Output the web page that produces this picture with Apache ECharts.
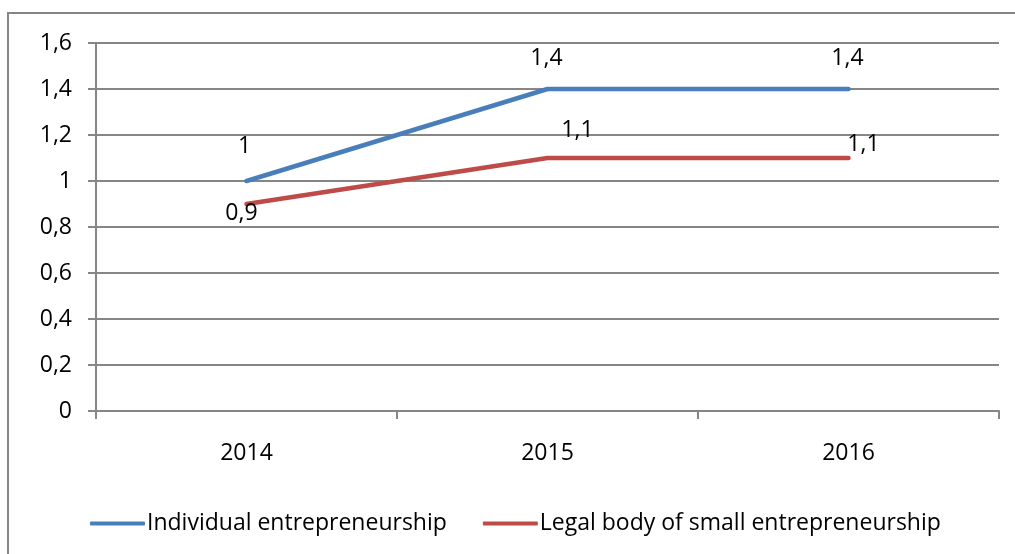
<!DOCTYPE html>
<html>
<head>
<meta charset="utf-8">
<script src="https://cdn.jsdelivr.net/npm/echarts@6/dist/echarts.min.js"></script>
<style>
  html, body { margin: 0; padding: 0; background: #fff; }
  #chart { width: 1015px; height: 554px; }
</style>
</head>
<body>
<div id="chart"></div>
<script>
const years = ['2014', '2015', '2016'];
const individual = [1, 1.4, 1.4];
const legalBody = [0.9, 1.1, 1.1];
const seriesNames = ['Individual entrepreneurship', 'Legal body of small entrepreneurship'];

// label placement around each point (pixels from the point)
const individualLabelOffsets = [[-2, -35], [-1, -31], [-1, -31]];
const legalLabelOffsets = [[-5, 9], [30, -28], [15, -14]];

const FONT = '"Open Sans", "DejaVu Sans", sans-serif';
const FS = 23;
const fmt = v => String(v).replace('.', ',');

function withLabels(values, offsets) {
  return values.map((v, i) => ({
    value: v,
    label: {
      show: true,
      position: 'inside',
      offset: offsets[i],
      formatter: p => fmt(p.value),
      color: '#000',
      fontSize: FS,
      fontFamily: FONT
    }
  }));
}

const chart = echarts.init(document.getElementById('chart'));
chart.setOption({
  animation: false,
  backgroundColor: '#fff',
  graphic: [{
    type: 'rect',
    shape: { x: 8, y: 13, width: 1020, height: 560 },
    style: { fill: 'none', stroke: '#868686', lineWidth: 2 },
    silent: true
  }],
  grid: { left: 96, right: 16, top: 43, bottom: 143 },
  legend: {
    top: 507,
    left: 85,
    itemWidth: 55,
    itemHeight: 4,
    itemGap: 36,
    icon: 'roundRect',
    textStyle: { fontSize: FS, fontFamily: FONT, color: '#000', padding: [0, 0, 0, -3] },
    data: seriesNames
  },
  xAxis: {
    type: 'category',
    data: years,
    boundaryGap: true,
    axisLine: { lineStyle: { color: '#868686', width: 2 } },
    axisTick: { show: true, length: 8, lineStyle: { color: '#868686', width: 2 } },
    axisLabel: { color: '#000', fontSize: FS, fontFamily: FONT, margin: 31 }
  },
  yAxis: {
    type: 'value',
    min: 0,
    max: 1.6,
    interval: 0.2,
    axisLine: { show: true, lineStyle: { color: '#868686', width: 2 } },
    axisTick: { show: true, length: 8, lineStyle: { color: '#868686', width: 2 } },
    splitLine: { lineStyle: { color: '#868686', width: 2 } },
    axisLabel: {
      color: '#000', fontSize: FS, fontFamily: FONT, margin: 24,
      formatter: v => fmt(Math.round(v * 10) / 10)
    }
  },
  series: [
    {
      name: seriesNames[0],
      type: 'line',
      data: withLabels(individual, individualLabelOffsets),
      symbol: 'circle',
      symbolSize: 0.01,
      lineStyle: { color: '#4A7EBB', width: 4.5, cap: 'round' },
      itemStyle: { color: '#4A7EBB' }
    },
    {
      name: seriesNames[1],
      type: 'line',
      data: withLabels(legalBody, legalLabelOffsets),
      symbol: 'circle',
      symbolSize: 0.01,
      lineStyle: { color: '#BE4B48', width: 4.5, cap: 'round' },
      itemStyle: { color: '#BE4B48' }
    }
  ]
});
</script>
</body>
</html>
